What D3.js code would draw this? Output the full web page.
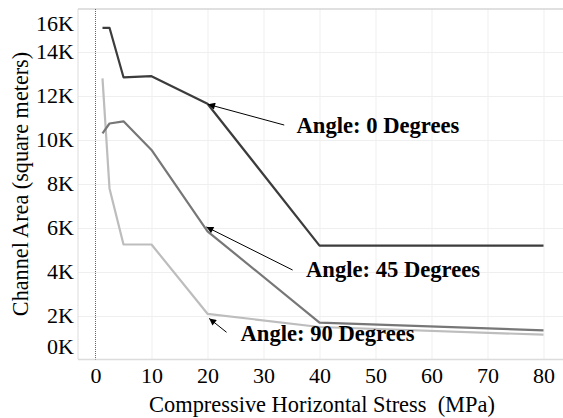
<!DOCTYPE html>
<html>
<head>
<meta charset="utf-8">
<script src="https://cdn.jsdelivr.net/npm/d3@7"></script>
<style>
  body { margin: 0; background: #fff; }
  svg { display: block; font-family: "Liberation Serif", "Times New Roman", serif; }
</style>
</head>
<body>
<div id="chart"></div>
<script>
// Data
const stress = [1.25, 2.5, 5, 10, 20, 40, 80];
const angle0 = [15100, 15100, 12850, 12900, 11650, 5200, 5200];
const angle45 = [10300, 10750, 10850, 9550, 5850, 1700, 1350];
const angle90 = [12800, 7800, 5250, 5250, 2100, 1500, 1150];
const xTicks = [0, 10, 20, 30, 40, 50, 60, 70, 80];
const yTicks = [0, 2000, 4000, 6000, 8000, 10000, 12000, 14000, 16000];

// label text, label position, arrow tail and arrow tip (data units)
const notes = [
    { text: "Angle: 0 Degrees", tx: 35.9, ty: 10300, x1: 33.7, y1: 10680, x2: 20.1, y2: 11620 },
    { text: "Angle: 45 Degrees", tx: 37.6, ty: 3790, x1: 35.2, y1: 4090, x2: 19.8, y2: 6050 },
    { text: "Angle: 90 Degrees", tx: 25.9, ty: 880, x1: 23.4, y1: 1260, x2: 20.3, y2: 1890 }
];

const W = 563, H = 418;
const plot = { left: 78, right: 563, top: 9, bottom: 359.5 };

const svg = d3.select("#chart")
    .append("svg")
    .attr("width", W)
    .attr("height", H);

// Scales
const x = d3.scaleLinear().domain([0, 80]).range([95.5, 543.5]);
const y = d3.scaleLinear().domain([0, 16000]).range([360, 8]);

// Gridlines
svg.append("g")
    .attr("transform", `translate(0,${plot.bottom})`)
    .call(d3.axisBottom(x).tickValues(xTicks.filter(d => d > 0))
        .tickSize(-(plot.bottom - plot.top)).tickFormat(""))
    .call(g => g.select(".domain").remove())
    .call(g => g.selectAll("line").attr("stroke", "#efefef"));

svg.append("g")
    .attr("transform", `translate(${plot.left},0)`)
    .call(d3.axisLeft(y).tickValues(yTicks.filter(d => d > 0 && d < 16000))
        .tickSize(-(plot.right - plot.left)).tickFormat(""))
    .call(g => g.select(".domain").remove())
    .call(g => g.selectAll("line").attr("stroke", "#efefef"));

// Frame
svg.append("line").attr("x1", plot.left).attr("x2", plot.right)
    .attr("y1", plot.top).attr("y2", plot.top).attr("stroke", "#d6d6d6").attr("stroke-width", 1.5);
svg.append("line").attr("x1", plot.left).attr("x2", plot.left)
    .attr("y1", plot.top).attr("y2", plot.bottom).attr("stroke", "#dcdcdc");
svg.append("line").attr("x1", plot.left).attr("x2", plot.right)
    .attr("y1", plot.bottom).attr("y2", plot.bottom).attr("stroke", "#dcdcdc").attr("stroke-width", 1.5);

// Dotted zero line
svg.append("line")
    .attr("x1", x(0)).attr("x2", x(0))
    .attr("y1", plot.top).attr("y2", plot.bottom)
    .attr("stroke", "#666")
    .attr("stroke-dasharray", "1,1");

// Axes labels
svg.append("g")
    .attr("transform", `translate(0,${plot.bottom})`)
    .call(d3.axisBottom(x).tickValues(xTicks).tickSize(0).tickPadding(8))
    .call(g => g.select(".domain").remove())
    .selectAll("text")
    .style("font-family", "Liberation Serif")
    .style("font-size", "22px")
    .attr("fill", "#000");

const yAxis = svg.append("g")
    .attr("transform", `translate(${plot.left},0)`)
    .call(d3.axisLeft(y).tickValues(yTicks).tickSize(0).tickPadding(4)
        .tickFormat(d => d / 1000 + "K"))
    .call(g => g.select(".domain").remove());
yAxis.selectAll("text")
    .style("font-family", "Liberation Serif")
    .style("font-size", "22px")
    .attr("fill", "#000");
// end labels are kept inside the frame
yAxis.selectAll(".tick")
    .attr("transform", d => `translate(0,${Math.min(Math.max(y(d), plot.top + 15), plot.bottom - 13)})`);

// Axis titles
svg.append("text")
    .attr("x", 322)
    .attr("y", 412)
    .attr("text-anchor", "middle")
    .style("font-size", "22.4px")
    .style("white-space", "pre")
    .text("Compressive Horizontal Stress  (MPa)");

svg.append("text")
    .attr("transform", "translate(28,184) rotate(-90)")
    .attr("text-anchor", "middle")
    .style("font-size", "22.2px")
    .text("Channel Area (square meters)");

// Lines
const series = [
    { values: angle90, color: "#bdbdbd" },
    { values: angle45, color: "#777777" },
    { values: angle0, color: "#3c3c3c" }
];

const line = d3.line()
    .x((d, i) => x(stress[i]))
    .y(d => y(d));

svg.selectAll(".series")
    .data(series)
    .enter()
    .append("path")
    .attr("class", "series")
    .attr("fill", "none")
    .attr("stroke", d => d.color)
    .attr("stroke-width", 2.2)
    .attr("stroke-linejoin", "round")
    .attr("d", d => line(d.values));

// Annotations
svg.append("defs").append("marker")
    .attr("id", "arrow")
    .attr("viewBox", "0 0 10 10")
    .attr("refX", 10).attr("refY", 5)
    .attr("markerWidth", 9).attr("markerHeight", 7)
    .attr("markerUnits", "userSpaceOnUse")
    .attr("orient", "auto")
    .append("path")
    .attr("d", "M0,0L10,5L0,10z")
    .attr("fill", "#000");

svg.selectAll(".note-arrow")
    .data(notes)
    .enter()
    .append("line")
    .attr("class", "note-arrow")
    .attr("x1", d => x(d.x1)).attr("y1", d => y(d.y1))
    .attr("x2", d => x(d.x2)).attr("y2", d => y(d.y2))
    .attr("stroke", "#000")
    .attr("stroke-width", 1)
    .attr("marker-end", "url(#arrow)");

svg.selectAll(".note")
    .data(notes)
    .enter()
    .append("text")
    .attr("class", "note")
    .attr("x", d => x(d.tx))
    .attr("y", d => y(d.ty))
    .style("font-size", "22.6px")
    .style("font-weight", "bold")
    .text(d => d.text);
</script>
</body>
</html>
